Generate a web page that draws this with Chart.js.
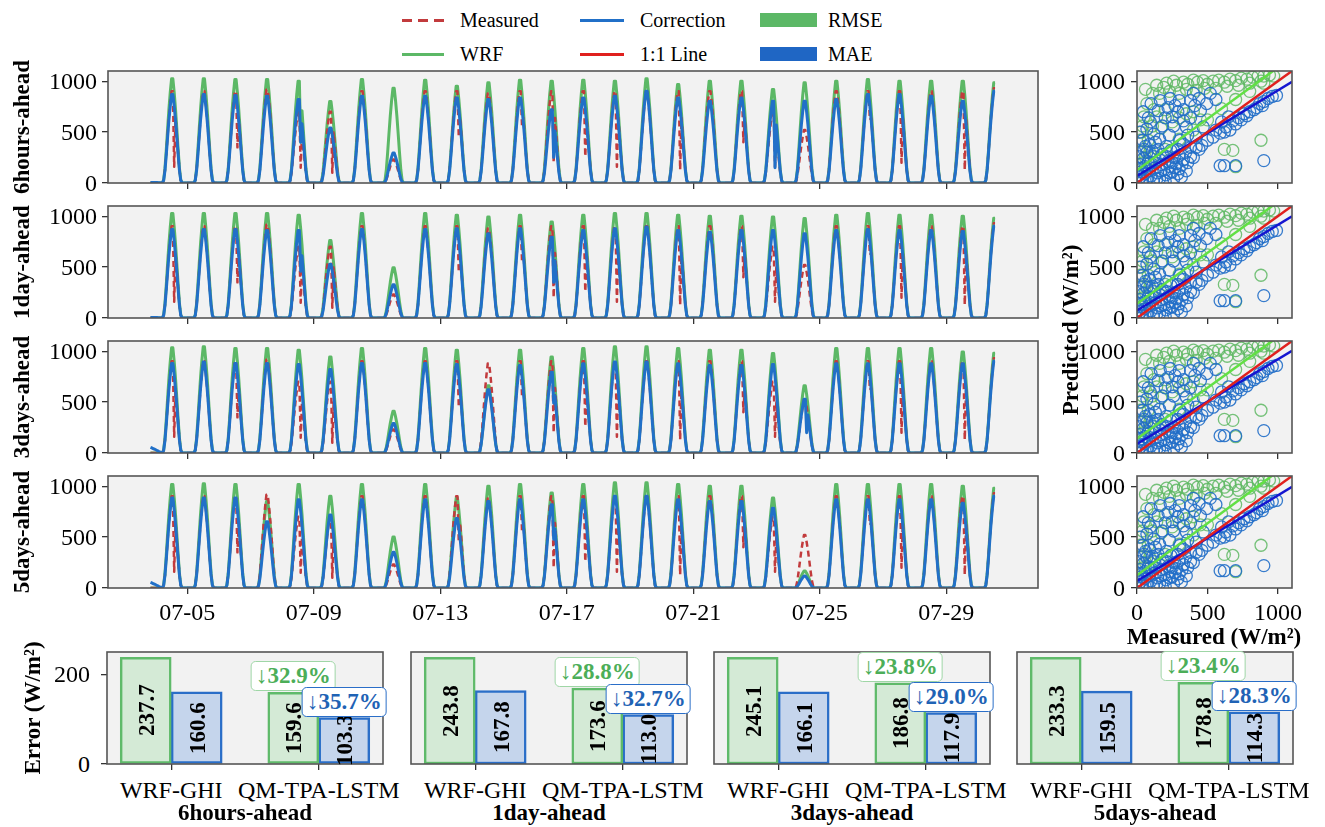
<!DOCTYPE html>
<html>
<head>
<meta charset="utf-8">
<title>WRF-GHI vs QM-TPA-LSTM</title>
<script src="https://cdn.jsdelivr.net/npm/chart.js@4.4.1/dist/chart.umd.min.js"></script>
<style>
html,body{margin:0;padding:0;background:#fff;}
#wrap{position:relative;width:1325px;height:827px;overflow:hidden;font-family:"Liberation Serif","Times New Roman",Times,serif;color:#000;}
#wrap canvas{position:absolute;}
.t{position:absolute;white-space:nowrap;line-height:1;}
.b{font-weight:bold;font-size:23px;}
.tk{font-size:24px;}
.rot{transform:translate(-50%,-50%) rotate(-90deg);}
.ctr{transform:translate(-50%,-50%);}
.ry{transform:translate(-100%,-50%);}
.cx{transform:translateX(-50%);}
.leg{font-size:20px;transform:translateY(-50%);}
.h{position:absolute;}
.pbox{position:absolute;white-space:nowrap;font-weight:bold;font-size:23px;line-height:24px;padding:2px 4px;
      background:#fff;border-radius:5px;transform:translate(-50%,-100%);}
</style>
</head>
<body>
<div id="wrap"></div>
<script>
// ---------------- DATA ----------------
const N = null;
const horizons = ['6hours-ahead', '1day-ahead', '3days-ahead', '5days-ahead'];
const tickDays = [4, 8, 12, 16, 20, 24, 28];
const tickLabels = ['07-05', '07-09', '07-13', '07-17', '07-21', '07-25', '07-29'];
const valueTicks = [0, 500, 1000];
const errorTicks = [0, 200];
const firstDay = 3; // 07-04 (day index counted from 07-01)
// hourly diurnal shape (fraction of the daily peak), hours 0..23
const diurnal = [0,0,0,0,0,0,0.03,0.14,0.32,0.52,0.71,0.87,1.0,1.0,0.87,0.71,0.52,0.32,0.14,0.03,0,0,0,0];
// daily peaks 07-04 ... 07-30 (W/m²)
const measuredPeak = [900,900,900,917,700,700,900,230,900,900,880,900,900,900,900,900,900,900,900,700,520,900,900,900,900,900,930];
const measuredDip  = [160,N,350,N,150,100,N,N,N,450,N,560,200,260,160,N,130,N,400,160,N,N,620,200,N,130,N];

const wrfPeak6h = [1023,1023,1016,1016,1000,800,1016,930,1010,950,984,1010,1000,1010,1000,1023,967,1000,1000,918,984,1000,1016,1000,1000,1000,984];
const wrfPeak1d = [1027,1027,1027,1027,1010,760,1027,493,1027,1010,993,1010,943,1010,1027,1027,1010,1000,1000,993,977,1010,1027,1010,1010,1000,980];
const wrfPeak3d = [1033,1043,1027,1027,1010,943,1027,410,1027,1010,660,1010,943,1027,1043,1043,1027,1010,1010,977,660,1027,1027,1027,1027,993,980];
const wrfPeak5d = [1017,1023,1017,850,1017,900,1017,500,1017,883,1000,1017,933,1017,1033,1033,1017,1000,1000,883,167,1017,1017,1017,1017,1000,980];
const wrfDip6h = [N,N,N,N,400,N,N,N,N,N,N,N,N,N,N,N,N,N,N,N,N,N,N,N,N,N,N];
const noDip    = [N,N,N,N,N,N,N,N,N,N,N,N,N,N,N,N,N,N,N,N,N,N,N,N,N,N,N];

const corrPeak6h = [869,869,860,852,820,540,852,295,852,836,820,836,720,836,852,900,836,803,836,803,803,820,869,869,852,803,900];
const corrPeak1d = [870,870,870,860,860,527,870,327,870,877,827,877,793,860,877,893,860,843,860,860,827,860,870,860,860,850,900];
const corrPeak3d = [880,893,880,880,870,820,880,290,880,870,620,860,793,877,893,893,877,860,860,870,527,877,877,877,877,877,900];
const corrPeak5d = [883,883,883,650,867,717,867,350,867,683,850,867,817,867,900,900,867,850,850,783,117,867,867,867,867,833,900];
const corrDip6h = [N,N,N,N,400,N,N,N,N,N,N,N,250,N,N,N,N,N,N,150,N,N,N,N,N,N,N];
const corrDip1d = [N,N,N,N,460,N,N,N,N,N,N,N,350,N,N,N,N,N,N,N,N,N,N,N,N,N,N];
const corrDip3d = [N,N,N,N,N,N,N,N,N,N,N,N,490,N,N,N,N,N,N,N,200,N,N,N,N,N,N];
const corrDip5d = [N,N,N,N,N,N,N,N,N,N,N,N,480,N,N,N,N,N,N,N,N,N,N,N,N,N,N];
// values 07-03 20:00 ... 07-04 04:00
const leadCorr6h = [5,5,5,5,5,4,3,2,0];
const leadCorr1d = [5,5,5,5,5,4,3,2,0];
const leadCorr3d = [55,50,44,38,32,25,18,10,4];
const leadCorr5d = [55,50,44,38,32,25,18,10,4];
const leadZero   = [0,0,0,0,0,0,0,0,0];

// scatter (Measured, Predicted)
const greenScatter = [[60,920],[110,880],[140,960],[190,940],[210,980],[260,1000],[280,960],[330,990],[360,970],[400,1010],[430,990],[470,1005],[500,970],[540,1000],[580,1010],[620,990],[660,1020],[700,1005],[740,1030],[780,1020],[820,1040],[860,1050],[900,1050],[940,1060],[970,1050],[160,880],[230,900],[300,880],[350,920],[420,910],[480,930],[560,930],[640,950],[720,960],[800,980],[880,1000],[30,500],[50,650],[70,780],[80,420],[110,560],[20,300],[45,200],[90,300],[140,650],[170,540],[200,720],[250,600],[300,640],[350,680],[400,700],[450,620],[100,240],[200,330],[300,430],[400,520],[500,620],[600,730],[700,820],[800,900],[900,980],[20,420],[40,560],[60,250],[120,720],[620,330],[680,320],[880,420],[700,160]];
const blueScatter = [[10,20],[25,60],[40,15],[55,90],[70,40],[85,120],[100,70],[115,20],[130,150],[145,100],[160,45],[175,180],[190,130],[205,80],[220,210],[235,160],[250,110],[265,250],[280,190],[300,140],[315,60],[330,230],[345,300],[20,180],[45,240],[70,300],[95,200],[120,260],[150,330],[180,280],[210,360],[240,320],[30,110],[60,160],[160,230],[260,40],[290,90],[200,20],[15,80],[35,140],[80,210],[110,310],[140,40],[230,100],[270,150],[300,270],[320,180],[350,120],[10,260],[50,330],[90,380],[130,200],[170,120],[210,260],[250,200],[290,330],[330,380],[360,200],[40,420],[70,530],[95,600],[120,480],[150,710],[165,810],[200,640],[235,830],[260,560],[290,700],[305,420],[330,610],[350,550],[330,720],[380,810],[400,880],[410,760],[450,710],[470,550],[495,780],[420,450],[360,470],[60,360],[130,400],[45,700],[230,470],[270,760],[520,880],[560,820],[100,780],[180,560],[220,740],[300,810],[440,830],[80,640],[20,500],[160,430],[250,650],[380,640],[380,350],[420,350],[440,330],[460,370],[400,250],[380,260],[500,420],[540,450],[590,490],[630,550],[680,610],[720,640],[760,680],[800,700],[830,720],[870,780],[900,800],[930,830],[960,850],[990,860],[620,500],[660,520],[700,580],[740,620],[780,660],[850,740],[890,760],[560,520],[600,600],[650,650],[590,170],[620,170],[700,170],[900,220]];
const greenFitIntercept = [125, 140, 140, 125];
const greenFitSlope = [1.01, 1.0, 1.0, 1.02];
const blueFitIntercept = [70, 75, 90, 70];
const blueFitSlope = [0.84, 0.84, 0.83, 0.84];

// bar panels
const barCategories = ['WRF-GHI', 'QM-TPA-LSTM'];
const rmseWrf = [237.7, 243.8, 245.1, 233.3];
const rmseQm  = [159.6, 173.6, 186.8, 178.8];
const maeWrf  = [160.6, 167.8, 166.1, 159.5];
const maeQm   = [103.3, 113.0, 117.9, 114.3];
const rmseDrop = ['32.9', '28.8', '23.8', '23.4'];
const maeDrop  = ['35.7', '32.7', '29.0', '28.3'];

// ---------------- STYLE / LAYOUT ----------------
const FONT = '"Liberation Serif", "Times New Roman", Times, serif';
const GREEN = '#5cb866', RED = '#c23b3d', BLUE = '#2170c8';
const panelTops = [71, 206, 341, 476];
const PANEL_H = 112;
const barLefts = [107, 411, 714, 1017];

Chart.defaults.font.family = FONT;
const wrap = document.getElementById('wrap');

function addText(txt, x, y, cls) {
  const d = document.createElement('div');
  d.className = 't ' + cls; d.textContent = txt;
  d.style.left = x + 'px'; d.style.top = y + 'px';
  wrap.appendChild(d); return d;
}
function addBox(x, y, w, h, css) {
  const d = document.createElement('div');
  d.className = 'h'; d.style.left = x + 'px'; d.style.top = y + 'px';
  d.style.width = w + 'px'; d.style.height = h + 'px'; d.style.background = css;
  wrap.appendChild(d);
}
function addCanvas(left, top, w, h) {
  const c = document.createElement('canvas');
  c.width = w; c.height = h;
  c.style.left = left + 'px'; c.style.top = top + 'px';
  c.style.width = w + 'px'; c.style.height = h + 'px';
  wrap.appendChild(c); return c;
}

function buildSeries(peaks, dips, lead) {
  const pts = [];
  lead.forEach((v, k) => pts.push({x: firstDay - 1 + (20 + k) / 24, y: v}));
  for (let i = 0; i < peaks.length; i++) {
    const day = firstDay + i;
    const hStart = i === 0 ? 5 : 0;
    const hEnd = i === peaks.length - 1 ? 13 : 23;
    for (let h = hStart; h <= hEnd; h++) {
      let y = peaks[i] * diurnal[h];
      if (h === 14 && dips[i] !== null) y = dips[i];
      pts.push({x: day + h / 24, y: y});
    }
  }
  return pts;
}

function axisX(min, max, ticks) {
  return {
    type: 'linear', min: min, max: max, position: 'bottom', offset: false,
    afterBuildTicks: s => { s.ticks = ticks.map(v => ({value: v})); },
    ticks: {callback: () => '', font: {family: FONT, size: 10}, padding: 0, maxRotation: 0, minRotation: 0, autoSkip: false},
    grid: {drawOnChartArea: false, drawTicks: true, tickLength: 6, color: '#333', lineWidth: 1.3, offset: false},
    border: {display: false}
  };
}
function axisY(min, max, ticks) {
  return {
    type: 'linear', min: min, max: max, position: 'left',
    afterBuildTicks: s => { s.ticks = ticks.map(v => ({value: v})); },
    ticks: {callback: () => '', font: {family: FONT, size: 10}, padding: 0},
    grid: {drawOnChartArea: false, drawTicks: true, tickLength: 6, color: '#333', lineWidth: 1.3},
    border: {display: false}
  };
}

// force the plot area to an exact rectangle (canvas coordinates)
const fixAreaPlugin = {
  id: 'fixArea',
  afterLayout(chart, args, f) {
    if (!f || f.left === undefined) return;
    const a = chart.chartArea;
    a.left = f.left; a.top = f.top; a.right = f.right; a.bottom = f.bottom;
    a.width = f.right - f.left; a.height = f.bottom - f.top;
    const x = chart.scales.x, y = chart.scales.y;
    x.left = f.left; x.right = f.right; x.width = f.right - f.left;
    x.top = f.bottom; x.bottom = chart.height; x.height = chart.height - f.bottom;
    x.configure();
    y.top = f.top; y.bottom = f.bottom; y.height = f.bottom - f.top;
    y.left = 0; y.right = f.left; y.width = f.left;
    y.configure();
  }
};

const framePlugin = {
  id: 'frame',
  beforeDraw(chart) {
    const a = chart.chartArea, ctx = chart.ctx;
    ctx.save(); ctx.fillStyle = '#f2f2f2';
    ctx.fillRect(a.left, a.top, a.right - a.left, a.bottom - a.top); ctx.restore();
  },
  afterDraw(chart) {
    const a = chart.chartArea, ctx = chart.ctx;
    ctx.save(); ctx.strokeStyle = '#555'; ctx.lineWidth = 1.6;
    ctx.strokeRect(a.left, a.top, a.right - a.left, a.bottom - a.top); ctx.restore();
  }
};

const baseOpts = (area) => ({
  responsive: false, animation: false, events: [],
  plugins: {legend: {display: false}, tooltip: {enabled: false}, fixArea: area},
  layout: {autoPadding: false, padding: 0}
});

// tick labels as page text, placed with the chart's own scales
function labelY(chart, cx, cy, values, gap) {
  const s = chart.scales.y, a = chart.chartArea;
  values.forEach(v => addText(String(v), cx + a.left - gap, cy + s.getPixelForValue(v), 'tk ry'));
}
function labelX(chart, cx, cy, values, texts, off) {
  const s = chart.scales.x, a = chart.chartArea;
  values.forEach((v, i) => addText(texts[i], cx + s.getPixelForValue(v), cy + a.bottom + off, 'tk cx'));
}

// ---------------- TIME SERIES ----------------
const wrfPeaks = [wrfPeak6h, wrfPeak1d, wrfPeak3d, wrfPeak5d];
const wrfDips = [wrfDip6h, noDip, noDip, noDip];
const corrPeaks = [corrPeak6h, corrPeak1d, corrPeak3d, corrPeak5d];
const corrDips = [corrDip6h, corrDip1d, corrDip3d, corrDip5d];
const corrLeads = [leadCorr6h, leadCorr1d, leadCorr3d, leadCorr5d];

for (let p = 0; p < 4; p++) {
  const top = panelTops[p], last = p === 3;
  const padTop = 6, L = 108, R = 7, B = 12;
  const cTop = top - padTop;
  const c = addCanvas(0, cTop, L + 930 + R, padTop + PANEL_H + B);
  const opts = baseOpts({left: L, right: L + 930, top: padTop, bottom: padTop + PANEL_H});
  opts.elements = {point: {radius: 0}, line: {tension: 0, fill: false, borderJoinStyle: 'round'}};
  opts.scales = {x: axisX(1.49, 30.9, tickDays), y: axisY(0, 1100, valueTicks)};
  const ch = new Chart(c, {
    type: 'line',
    data: {datasets: [
      {label: 'Correction', data: buildSeries(corrPeaks[p], corrDips[p], corrLeads[p]), borderColor: BLUE, borderWidth: 3},
      {label: 'Measured', data: buildSeries(measuredPeak, measuredDip, leadZero), borderColor: RED, borderWidth: 2.5, borderDash: [6, 4]},
      {label: 'WRF', data: buildSeries(wrfPeaks[p], wrfDips[p], leadZero), borderColor: GREEN, borderWidth: 3}
    ]},
    options: opts,
    plugins: [fixAreaPlugin, framePlugin]
  });
  labelY(ch, 0, cTop, valueTicks, 11);
  if (last) labelX(ch, 0, cTop, tickDays, tickLabels, 12);
  addText(horizons[p], 21, top + PANEL_H / 2, 'b rot');
}

// ---------------- SCATTER ----------------
for (let p = 0; p < 4; p++) {
  const top = panelTops[p], last = p === 3;
  const padTop = 6, L = 20, R = 12, B = 12;
  const cTop = top - padTop, cLeft = 1137 - L;
  const c = addCanvas(cLeft, cTop, L + 155 + R, padTop + PANEL_H + B);
  const opts = baseOpts({left: L, right: L + 155, top: padTop, bottom: padTop + PANEL_H});
  opts.scales = {x: axisX(0, 1100, valueTicks), y: axisY(0, 1100, valueTicks)};
  const gi = greenFitIntercept[p], gs = greenFitSlope[p];
  const bi = blueFitIntercept[p], bs = blueFitSlope[p];
  const ch = new Chart(c, {
    type: 'scatter',
    data: {datasets: [
      {label: '1:1 Line', data: [{x: 0, y: 0}, {x: 1100, y: 1100}], showLine: true, pointRadius: 0, borderColor: '#e0201e', borderWidth: 2.5},
      {label: 'Correction fit', data: [{x: 0, y: bi}, {x: 1100, y: bi + bs * 1100}], showLine: true, pointRadius: 0, borderColor: '#1515d0', borderWidth: 2.5},
      {label: 'WRF fit', data: [{x: 0, y: gi}, {x: 1100, y: gi + gs * 1100}], showLine: true, pointRadius: 0, borderColor: '#62e045', borderWidth: 2.5},
      {label: 'Correction', data: blueScatter.map(d => ({x: d[0], y: d[1]})), pointRadius: 6, pointBorderWidth: 1.3, pointBorderColor: 'rgba(33,110,200,0.9)', pointBackgroundColor: 'rgba(0,0,0,0)'},
      {label: 'WRF', data: greenScatter.map(d => ({x: d[0], y: d[1]})), pointRadius: 6, pointBorderWidth: 1.3, pointBorderColor: 'rgba(95,185,100,0.85)', pointBackgroundColor: 'rgba(0,0,0,0)'}
    ]},
    options: opts,
    plugins: [fixAreaPlugin, framePlugin]
  });
  labelY(ch, cLeft, cTop, valueTicks, 12);
  if (last) labelX(ch, cLeft, cTop, valueTicks, valueTicks.map(String), 12);
}
addText('Predicted (W/m²)', 1070, 330, 'b rot');
addText('Measured (W/m²)', 1214, 636, 'b ctr');

// ---------------- BARS ----------------
for (let p = 0; p < 4; p++) {
  const left = barLefts[p], top = 652, first = p === 0;
  const padTop = 6, L = 10, R = 10, B = 12;
  const cTop = top - padTop, cLeft = left - L;
  const c = addCanvas(cLeft, cTop, L + 276 + R, padTop + PANEL_H + B);
  const ymax = 1.05 * Math.max(rmseWrf[p], rmseQm[p], maeWrf[p], maeQm[p]);
  const opts = baseOpts({left: L, right: L + 276, top: padTop, bottom: padTop + PANEL_H});
  const yAxis = axisY(0, ymax, first ? errorTicks : []);
  if (!first) yAxis.grid.drawTicks = false;
  opts.scales = {x: axisX(-0.435, 1.435, [0, 1]), y: yAxis};
  const rm = [rmseWrf[p], rmseQm[p]], ma = [maeWrf[p], maeQm[p]];
  const ch = new Chart(c, {
    type: 'bar',
    data: {datasets: [
      {label: 'RMSE', data: [{x: 0, y: rm[0]}, {x: 1, y: rm[1]}], backgroundColor: '#d4ead6', borderColor: '#5fba6a',
       borderWidth: 2.5, borderSkipped: false, barThickness: 51},
      {label: 'MAE', data: [{x: 0, y: ma[0]}, {x: 1, y: ma[1]}], backgroundColor: '#c5d5ec', borderColor: '#2a6ec8',
       borderWidth: 2.5, borderSkipped: false, barThickness: 51}
    ]},
    options: opts,
    plugins: [fixAreaPlugin, framePlugin]
  });
  if (first) labelY(ch, cLeft, cTop, errorTicks, 17);
  labelX(ch, cLeft, cTop, [0, 1], barCategories, 14);
  // values inside bars
  const vals = [rm, ma];
  [0, 1].forEach(di => {
    ch.getDatasetMeta(di).data.forEach((el, i) => {
      addText(vals[di][i].toFixed(1), cLeft + el.x, cTop + (el.y + el.base) / 2, 'b rot');
    });
  });
  // reduction boxes above the corrected bars
  const drops = [rmseDrop[p], maeDrop[p]];
  const edge = ['#9fd6a6', '#2a6ec8'], ink = ['#4cae58', '#1f63b5'];
  [0, 1].forEach(di => {
    const el = ch.getDatasetMeta(di).data[1];
    const d = document.createElement('div');
    d.className = 'pbox'; d.textContent = '\u2193' + drops[di] + '%';
    d.style.left = (cLeft + el.x) + 'px'; d.style.top = (cTop + el.y - 1) + 'px';
    d.style.border = '1.3px solid ' + edge[di]; d.style.color = ink[di];
    wrap.appendChild(d);
  });
  addText(horizons[p], left + 138, 812, 'b ctr');
}
addText('Error (W/m²)', 32, 708, 'b rot');

// ---------------- LEGEND ----------------
const legendRows = [20, 54];
addBox(402, legendRows[0] - 1.5, 42, 3, 'repeating-linear-gradient(90deg,' + RED + ' 0 10px, transparent 10px 16px)');
addText('Measured', 460, legendRows[0], 'leg');
addBox(402, legendRows[1] - 1.5, 42, 3, GREEN);
addText('WRF', 460, legendRows[1], 'leg');
addBox(580, legendRows[0] - 1.5, 44, 3, BLUE);
addText('Correction', 640, legendRows[0], 'leg');
addBox(580, legendRows[1] - 1.5, 44, 3, '#e0201e');
addText('1:1 Line', 640, legendRows[1], 'leg');
addBox(760, legendRows[0] - 7, 57, 14, '#5cb866');
addText('RMSE', 828, legendRows[0], 'leg');
addBox(760, legendRows[1] - 7, 57, 14, '#1f66c4');
addText('MAE', 828, legendRows[1], 'leg');
</script>
</body>
</html>
